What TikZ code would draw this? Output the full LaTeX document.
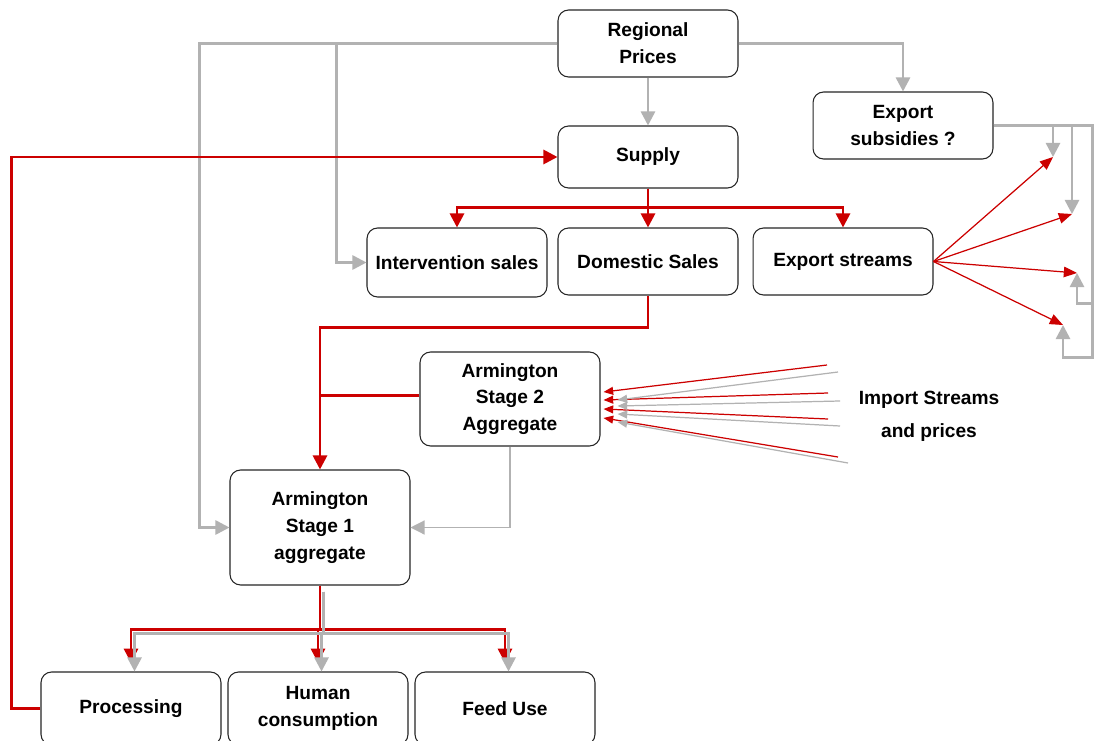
\documentclass[tikz,border=0pt]{standalone}
\usepackage{fontspec}
\setmainfont{Liberation Sans}
\usepackage{tikz}
\usetikzlibrary{arrows.meta,calc}
\definecolor{flowred}{RGB}{204,0,0}
\definecolor{pricegray}{RGB}{178,178,178}

\begin{document}
\begin{tikzpicture}[x=0.02cm,y=-0.02cm,
  box/.style={draw=black!85,line width=0.6pt,rounded corners=6pt,align=center,fill=white,
              font=\fontsize{10.9}{15.2}\selectfont\bfseries,minimum width=3.6cm,minimum height=#1},box/.default=1.34cm,
  flow/.style={draw=flowred,line width=1.6pt,-{Triangle[length=8pt,width=8pt]}},
  price/.style={draw=pricegray,line width=1.5pt,-{Triangle[length=8pt,width=8pt]}},
  thinflow/.style={draw=flowred,line width=0.7pt,-{Triangle[length=7.5pt,width=6pt]}},
  imp/.style={draw=#1,line width=0.7pt,-{Triangle[length=5.5pt,width=4.5pt]}}]
  \fill[white] (0,0) rectangle (1098,740);
  \useasboundingbox (0,0) rectangle (1098,740);
  \node[box] (rp) at (648,43.5) {Regional\\Prices};
  \node[box=1.24cm] (sup) at (648,157) {Supply};
  \node[box] (sub) at (903,125.5) {Export\\subsidies ?};
  \node[box=1.38cm] (is) at (457,262.5) {Intervention sales};
  \node[box] (ds) at (648,261.5) {Domestic Sales};
  \node[box] (es) at (843,261.5) {Export streams};
  \node[box=1.88cm] (as2) at (510,399) {Armington\\Stage 2\\Aggregate};
  \node[box=2.3cm] (as1) at (320,527.5) {Armington\\Stage 1\\aggregate};
  \node[box=1.46cm] (pr) at (131,708.5) {Processing};
  \node[box=1.46cm] (hc) at (318,708.5) {Human\\consumption};
  \node[box=1.46cm] (fu) at (505,708.5) {Feed Use};
  \node[align=center,font=\fontsize{10.9}{15.2}\selectfont\bfseries] (imps) at (929,416) {Import Streams\\[3.5pt]and prices};
  % price links
  \draw[price] (rp.west) -- ++(-358,0) |- (as1.west);
  \draw[price] (rp.west) -- ++(-221,0) |- (is.west);
  \draw[price] (rp.south) -- (sup.north);
  \draw[price] (rp.east) -| (sub.north);
  % export points
  \coordinate (e1) at (1053,157);
  \coordinate (e2) at (1072,214);
  \coordinate (e3) at (1077,273);
  \coordinate (e4) at (1063,325);
  \draw[price] (sub.east) -| (e1);
  \draw[price] (sub.east) -| (e2);
  \draw[price] (sub.east) -| ++(99,178) -| (e3);
  \draw[price] (sub.east) -| ++(99,232) -| (e4);
  \foreach \t in {e1,e2,e3,e4} \draw[thinflow] (es.east) -- (\t);
  % quantity flows
  \draw[flow] (pr.west) -- ++(-29,0) |- (sup.west);
  \draw[flow] (sup.south) -- ++(0,19) -| (is.north);
  \draw[flow] (sup.south) -- ++(0,19) -| (es.north);
  \draw[flow] (sup.south) -- (ds.north);
  \draw[flow] (ds.south) -- ++(0,32) -| (as1.north);
  \draw[flowred,line width=1.6pt] ([yshift=2pt]as2.west) -- ([yshift=2pt]as2.west -| as1.north);
  \draw[price,line width=0.7pt] (as2.south) |- (as1.east);
  % imports
  \foreach \i/\sx/\sy/\ty in {1/827/365/-7,2/828/393/1,3/828/419/10,4/838/457/19}{
    \coordinate (ir\i) at (\sx,\sy);
    \draw[imp=flowred] (ir\i) -- ($(as2.east)+(3,\ty)$);}
  \foreach \i/\sx/\sy/\ty in {1/838/372/1,2/840/401/7,3/840/426/15,4/848/463/23}{
    \coordinate (ig\i) at (\sx,\sy);
    \draw[imp=pricegray] (ig\i) -- ($(as2.east)+(17,\ty)$);}
  % uses
  \foreach \b in {pr,hc,fu}
    \draw[flow,shorten >=5pt] (as1.south) -- ++(0,44) -| (\b.north);
  \foreach \b in {pr,hc,fu}
    \draw[price] ([xshift=2pt]as1.south) ++(0,6) -- ++(0,42) -| ([xshift=2pt]\b.north);
\end{tikzpicture}
\end{document}
